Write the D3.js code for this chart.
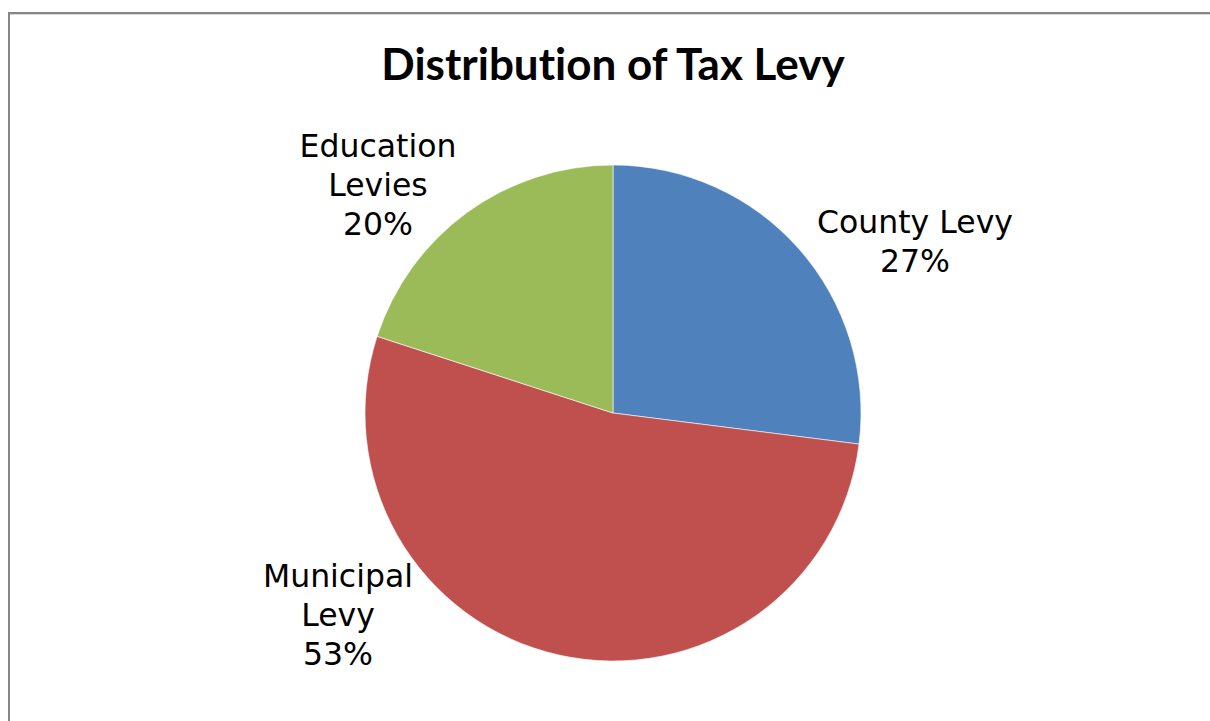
<!DOCTYPE html>
<html>
<head>
<meta charset="utf-8">
<script src="https://cdn.jsdelivr.net/npm/d3@7"></script>
<style>
  html, body { margin: 0; padding: 0; background: #fff; }
  .pltTitle { font-family: Lato, "Open Sans", sans-serif; font-weight: 700; font-size: 44px; fill: #000; font-variant-ligatures: none; }
  .sliceLbl { font-family: "DejaVu Sans", Verdana, sans-serif; font-size: 31.5px; fill: #000; }
</style>
</head>
<body>
<div id="chart"></div>
<script>
// data
let categories = ["County Levy", "Municipal Levy", "Education Levies"];
let shares = [27, 53, 20];
let labelLines = [["County Levy", "27%"], ["Municipal", "Levy", "53%"], ["Education", "Levies", "20%"]];
let sliceColors = ["#4F81BD", "#C0504D", "#9BBB59"];

let width = 1210;
let height = 721;
let cx = 613, cy = 413, radius = 248;
let lineGap = 39;

// where excel put each label block (centre of block), relative to pie centre
let labelOffsets = [[302, -172], [-275, 202], [-235, -228]];

let svg = d3.select("#chart")
            .append("svg")
              .attr("width", width)
              .attr("height", height);

// chart frame
svg.append("rect")
   .attr("x", 9)
   .attr("y", 13)
   .attr("width", width + 20)
   .attr("height", height + 20)
   .attr("fill", "none")
   .attr("stroke", "#868686")
   .attr("stroke-width", 2);
svg.append("line")
   .attr("x1", 10).attr("x2", width)
   .attr("y1", 14.5).attr("y2", 14.5)
   .attr("stroke", "#d9d9d9").attr("stroke-width", 1);

svg.append("text")
   .attr("class", "pltTitle")
   .attr("x", 613)
   .attr("y", 80)
   .attr("text-anchor", "middle")
   .text("Distribution of Tax Levy");

let pie = d3.pie().sort(null).value(d => d);
let arc = d3.arc().innerRadius(0).outerRadius(radius);
let arcs = pie(shares);

let pieG = svg.append("g")
              .attr("transform", "translate(" + cx + "," + cy + ")");

pieG.selectAll(".slice")
    .data(arcs)
    .enter()
    .append("path")
      .attr("class", "slice")
      .attr("d", arc)
      .attr("fill", (d, i) => sliceColors[i])
      .attr("stroke", "#ffffff")
      .attr("stroke-width", 0.6);

let lbls = pieG.selectAll(".sliceLbl")
    .data(arcs)
    .enter()
    .append("text")
      .attr("class", "sliceLbl")
      .attr("text-anchor", "middle")
      .attr("transform", (d, i) => "translate(" + labelOffsets[i][0] + "," + labelOffsets[i][1] + ")");

lbls.each(function(d, i) {
  let lines = labelLines[i];
  let top = -(lines.length - 1) * lineGap / 2;
  d3.select(this).selectAll("tspan")
    .data(lines)
    .enter()
    .append("tspan")
      .attr("x", 0)
      .attr("y", (t, j) => top + j * lineGap)
      .attr("dy", "0.36em")
      .text(t => t);
});
</script>
</body>
</html>
